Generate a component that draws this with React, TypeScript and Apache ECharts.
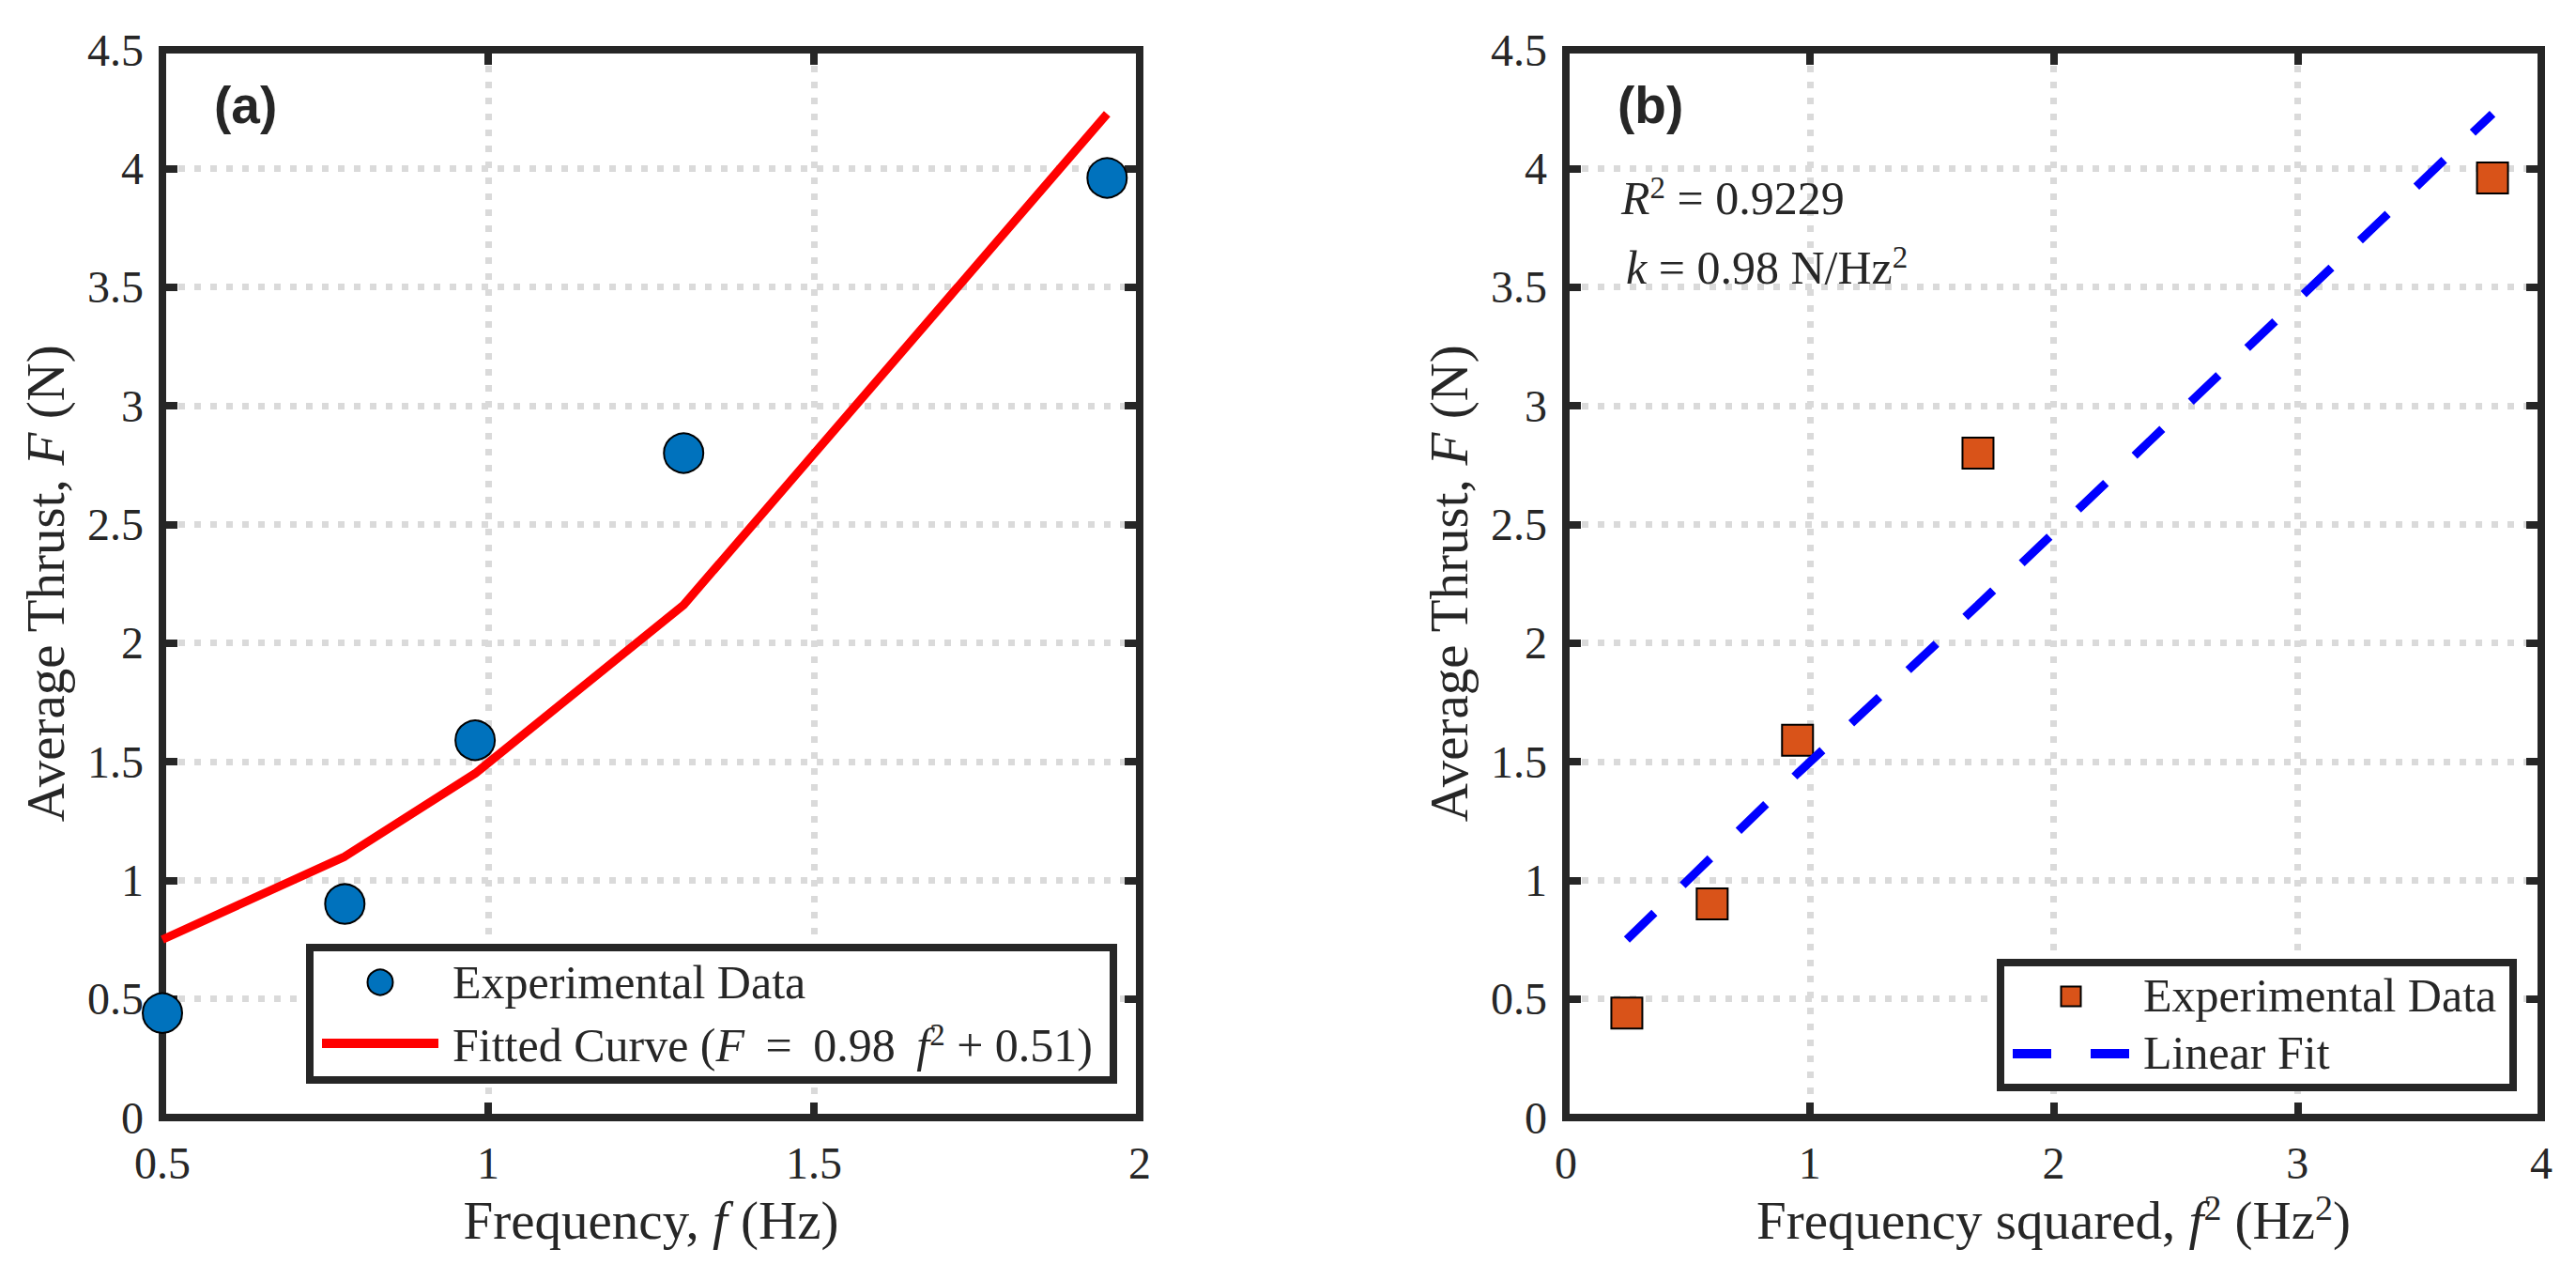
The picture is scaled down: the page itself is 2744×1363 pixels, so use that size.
import React, { useEffect, useRef } from "react";
import * as echarts from "echarts";

// ---------- data ----------
const freq = [0.5, 0.78, 0.98, 1.3, 1.95]; // f (Hz)
const freqSq = [0.25, 0.6, 0.95, 1.69, 3.8]; // f^2 (Hz^2)
const thrust = [0.44, 0.9, 1.59, 2.8, 3.96]; // F (N)
const fitThrust = [0.75, 1.1, 1.45, 2.16, 4.23]; // fitted F (N)

const xTicksA = [0.5, 1, 1.5, 2];
const xTicksB = [0, 1, 2, 3, 4];
const yTicks = [0, 0.5, 1, 1.5, 2, 2.5, 3, 3.5, 4, 4.5];

// ---------- styling ----------
const SERIF = '"Liberation Serif", "Times New Roman", Times, serif';
const SANS = '"Liberation Sans", Arial, Helvetica, sans-serif';
const INK = "#262626";
const GRID_GRAY = "#dadada";

const TICK_FS = 48;
const NAME_FS = 57;
const NAME_LH = 64;
const LEG_FS = 50;
const THIN = "\u2009";

function range(ticks: number[]) {
  return {
    min: ticks[0],
    max: ticks[ticks.length - 1],
    interval: ticks[1] - ticks[0],
  };
}

function richStyles(fs: number, lh: number) {
  return {
    n: { fontSize: fs, lineHeight: lh, fontFamily: SERIF, color: INK },
    i: { fontSize: fs, lineHeight: lh, fontFamily: SERIF, color: INK, fontStyle: "italic" },
    s: {
      fontSize: Math.round(fs * 0.66),
      lineHeight: Math.round(fs * 0.66),
      fontFamily: SERIF,
      color: INK,
      verticalAlign: "top",
    },
  };
}

function mainAxis(kind: "x" | "y", gridIndex: number, ticks: number[], name: string) {
  const isX = kind === "x";
  return {
    type: "value",
    gridIndex,
    position: isX ? "bottom" : "left",
    ...range(ticks),
    name,
    nameLocation: "middle",
    nameGap: isX ? 77 : 93,
    nameMoveOverlap: false,
    nameTextStyle: {
      fontSize: NAME_FS,
      lineHeight: NAME_LH,
      fontFamily: SERIF,
      color: INK,
      rich: richStyles(NAME_FS, NAME_LH),
    },
    axisLine: { show: true, onZero: false, lineStyle: { color: INK, width: 8, cap: "square" } },
    axisTick: { show: true, inside: true, length: 16, lineStyle: { color: INK, width: 8 } },
    axisLabel: {
      show: true,
      margin: isX ? 24 : 20,
      fontSize: TICK_FS,
      lineHeight: TICK_FS,
      fontFamily: SERIF,
      color: INK,
      showMinLabel: true,
      showMaxLabel: true,
    },
    splitLine: {
      show: true,
      lineStyle: { color: GRID_GRAY, width: 7, type: [7, 10] },
    },
    minorTick: { show: false },
  };
}

function mirrorAxis(kind: "x" | "y", gridIndex: number, ticks: number[]) {
  const isX = kind === "x";
  return {
    type: "value",
    gridIndex,
    position: isX ? "top" : "right",
    ...range(ticks),
    axisLine: { show: true, onZero: false, lineStyle: { color: INK, width: 8, cap: "square" } },
    axisTick: { show: true, inside: true, length: 16, lineStyle: { color: INK, width: 8 } },
    axisLabel: { show: false },
    splitLine: { show: false },
  };
}

function textEl(x: number, y: number, text: string, extra: any = {}) {
  return {
    type: "text",
    x,
    y,
    z: 101,
    style: {
      text,
      fontFamily: SERIF,
      fontSize: LEG_FS,
      fill: INK,
      align: "left",
      verticalAlign: "middle",
      ...extra,
    },
  };
}

function buildOption() {
  const dataA = freq.map((f, i) => [f, thrust[i]]);
  const fitA = freq.map((f, i) => [f, fitThrust[i]]);
  const dataB = freqSq.map((f, i) => [f, thrust[i]]);
  const fitB = freqSq.map((f, i) => [f, fitThrust[i]]);

  const fittedLabel =
    "{n|Fitted Curve (}{i|F}{n|" +
    THIN +
    " = " +
    THIN +
    "0.98 " +
    THIN +
    "}{i|f}{s|2}{n| + 0.51)}";

  const graphics: any[] = [
    // panel labels
    textEl(228, 112, "(a)", { fontFamily: SANS, fontWeight: "bold", fontSize: 55 }),
    textEl(1723, 112, "(b)", { fontFamily: SANS, fontWeight: "bold", fontSize: 55 }),
    // fit statistics
    textEl(1727, 211, "{i|R}{s|2}{n| = 0.9229}", { rich: richStyles(50, 56) }),
    textEl(1732, 285, "{i|k}{n| = 0.98 N/Hz}{s|2}", { rich: richStyles(50, 56) }),
    // legend (a)
    {
      type: "rect",
      z: 100,
      shape: { x: 330, y: 1009, width: 856, height: 141 },
      style: { fill: "#ffffff", stroke: INK, lineWidth: 8 },
    },
    {
      type: "circle",
      z: 101,
      shape: { cx: 405, cy: 1046, r: 13.5 },
      style: { fill: "#0072BD", stroke: "#000000", lineWidth: 2 },
    },
    {
      type: "line",
      z: 101,
      shape: { x1: 343, y1: 1111, x2: 467, y2: 1111 },
      style: { stroke: "#FF0000", lineWidth: 10 },
    },
    textEl(482, 1046, "Experimental Data"),
    textEl(482, 1113, fittedLabel, { rich: richStyles(LEG_FS, 56) }),
    // legend (b)
    {
      type: "rect",
      z: 100,
      shape: { x: 2131, y: 1025, width: 546, height: 133 },
      style: { fill: "#ffffff", stroke: INK, lineWidth: 8 },
    },
    {
      type: "rect",
      z: 101,
      shape: { x: 2195.5, y: 1050.5, width: 21, height: 21 },
      style: { fill: "#D95319", stroke: "#000000", lineWidth: 2 },
    },
    {
      type: "line",
      z: 101,
      shape: { x1: 2144, y1: 1122, x2: 2268, y2: 1122 },
      style: { stroke: "#0000FF", lineWidth: 10, lineDash: [41, 42] },
    },
    textEl(2283, 1060, "Experimental Data"),
    textEl(2283, 1121, "Linear Fit"),
  ];

  return {
    animation: false,
    backgroundColor: "#ffffff",
    tooltip: { show: false },
    grid: [
      { left: 173, top: 53, width: 1041, height: 1137, containLabel: false, outerBoundsMode: "none" },
      { left: 1668, top: 53, width: 1039, height: 1137, containLabel: false, outerBoundsMode: "none" },
    ],
    xAxis: [
      mainAxis("x", 0, xTicksA, "{n|Frequency, }{i|f}{n| (Hz)}"),
      mirrorAxis("x", 0, xTicksA),
      mainAxis("x", 1, xTicksB, "{n|Frequency squared, }{i|f}{s|2}{n| (Hz}{s|2}{n|)}"),
      mirrorAxis("x", 1, xTicksB),
    ],
    yAxis: [
      mainAxis("y", 0, yTicks, "{n|Average Thrust, }{i|F}{n| (N)}"),
      mirrorAxis("y", 0, yTicks),
      mainAxis("y", 1, yTicks, "{n|Average Thrust, }{i|F}{n| (N)}"),
      mirrorAxis("y", 1, yTicks),
    ],
    series: [
      {
        type: "scatter",
        name: "Experimental Data",
        xAxisIndex: 0,
        yAxisIndex: 0,
        data: dataA,
        symbol: "circle",
        symbolSize: 42,
        itemStyle: { color: "#0072BD", borderColor: "#000000", borderWidth: 2, opacity: 1 },
        emphasis: { disabled: true },
        silent: true,
        z: 3,
      },
      {
        type: "line",
        name: "Fitted Curve",
        xAxisIndex: 0,
        yAxisIndex: 0,
        data: fitA,
        showSymbol: false,
        symbol: "none",
        lineStyle: { color: "#FF0000", width: 9 },
        emphasis: { disabled: true },
        silent: true,
        z: 4,
      },
      {
        type: "scatter",
        name: "Experimental Data (b)",
        xAxisIndex: 2,
        yAxisIndex: 2,
        data: dataB,
        symbol: "rect",
        symbolSize: 33,
        itemStyle: { color: "#D95319", borderColor: "#000000", borderWidth: 2, opacity: 1 },
        emphasis: { disabled: true },
        silent: true,
        z: 3,
      },
      {
        type: "line",
        name: "Linear Fit",
        xAxisIndex: 2,
        yAxisIndex: 2,
        data: fitB,
        showSymbol: false,
        symbol: "none",
        lineStyle: { color: "#0000FF", width: 9, type: [41, 42] },
        emphasis: { disabled: true },
        silent: true,
        z: 4,
      },
    ],
    graphic: { elements: graphics },
  };
}

export default function App() {
  const ref = useRef<HTMLDivElement>(null);
  useEffect(() => {
    if (!ref.current) return;
    const chart = echarts.init(ref.current, undefined, { renderer: "svg" });
    chart.setOption(buildOption() as any);
    return () => chart.dispose();
  }, []);
  return (
    <div
      ref={ref}
      style={{
        position: "absolute",
        left: 0,
        top: 0,
        width: 2744,
        height: 1363,
        background: "#ffffff",
      }}
    />
  );
}
